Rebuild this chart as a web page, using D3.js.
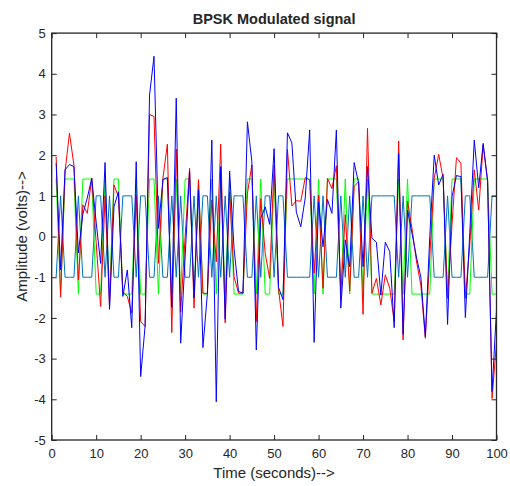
<!DOCTYPE html>
<html>
<head>
<meta charset="UTF-8">
<script src="https://d3js.org/d3.v7.min.js"></script>
<style>
  body { margin: 0; background: #fff; }
  text { font-family: "Liberation Sans", Arial, sans-serif; fill: #262626; }
</style>
</head>
<body>
<svg id="chart"></svg>
<script>
// tick labels
var xTicks = [0, 10, 20, 30, 40, 50, 60, 70, 80, 90, 100];
var yTicks = [-5, -4, -3, -2, -1, 0, 1, 2, 3, 4, 5];

// samples 1..100
// light blue: the bit stream (+1 / -1)
var bits = [
  -1, 1,-1,-1,-1, 1,-1,-1,-1, 1,   1,-1, 1,-1,-1, 1, 1, 1,-1, 1,
   1,-1,-1, 1,-1,-1, 1,-1, 1,-1,  -1, 1,-1, 1, 1,-1, 1,-1, 1,-1,
   1, 1, 1,-1,-1, 1,-1, 1, 1,-1,   1, 1,-1,-1,-1,-1,-1,-1, 1,-1,
   1,-1,-1,-1, 1,-1, 1,-1,-1, 1,  -1, 1, 1, 1, 1, 1, 1,-1, 1,-1,
   1, 1, 1, 1, 1,-1,-1,-1, 1,-1,  -1,-1, 1, 1,-1,-1,-1,-1, 1, 1
];
// green: modulated signal (+/- 1.414)
var modulated = [
   1.414,-1.414, 1.414, 1.414, 1.414,-1.414, 1.414, 1.414, 1.414,-1.414,
  -1.414, 1.414,-1.414, 1.414, 1.414,-1.414,-1.414,-1.414, 1.414,-1.414,
  -1.414, 1.414, 1.414,-1.414, 1.414, 1.414,-1.414, 1.414,-1.414, 1.414,
   1.414,-1.414, 1.414,-1.414,-1.414, 1.414,-1.414, 1.414,-1.414, 1.414,
  -1.414,-1.414,-1.414, 1.414, 1.414,-1.414, 1.414,-1.414,-1.414, 1.414,
  -1.414,-1.414, 1.414, 1.414, 1.414, 1.414, 1.414, 1.414,-1.414, 1.414,
  -1.414, 1.414, 1.414, 1.414,-1.414, 1.414,-1.414, 1.414, 1.414,-1.414,
   1.414,-1.414,-1.414,-1.414,-1.414,-1.414,-1.414, 1.414,-1.414, 1.414,
  -1.414,-1.414,-1.414,-1.414,-1.414, 1.414, 1.414, 1.414,-1.414, 1.414,
   1.414, 1.414,-1.414,-1.414, 1.414, 1.414, 1.414, 1.414,-1.414,-1.414
];
// red: signal with noise
var noisyRed = [
   1.96,-1.49, 1.60, 2.54, 1.75,-1.07, 0.78, 0.57, 1.43,-0.15,
  -1.72, 1.00,-1.70, 1.27, 0.98,-1.35,-1.47,-1.88, 1.00,-2.09,
  -2.21, 3.00, 2.95,-0.66, 1.43, 2.27,-2.36, 2.15,-1.86, 0.00,
   1.68,-1.76, 1.39,-1.39,-1.40, 0.90,-0.62, 2.27,-2.12, 1.10,
  -0.99,-1.39,-1.39, 1.06, 1.76,-2.09, 0.93,-0.41,-1.03, 1.76,
  -1.30,-2.21, 2.14, 0.75, 0.88, 0.87, 1.45, 1.39,-0.90, 1.02,
  -1.27, 1.43, 1.18, 1.74,-1.43, 0.54,-1.34, 1.23, 1.35,-1.91,
   2.66,-1.39,-1.03,-1.68,-0.94,-1.27,-2.09, 2.35,-2.54, 0.87,
   0.20,-0.60,-1.20,-2.50,-0.50, 1.43, 2.02, 1.43,-1.52, 0.30,
   1.94, 1.80,-1.52,-0.20, 1.64, 0.65, 2.25, 1.39,-3.98,-2.60
];
// blue: received signal
var noisyBlue = [
   1.80,-0.82, 1.64, 1.77, 1.72,-0.40, 0.55, 0.95, 1.43, 0.35,
  -0.66, 1.82,-1.79, 0.73, 1.10,-1.47,-0.82,-2.24, 1.84,-3.44,
  -2.20, 3.48, 4.43, 0.20, 1.40, 1.45,-1.74, 3.40,-2.62,-0.50,
   1.60,-1.51, 1.15,-2.73,-1.40, 2.37,-4.06, 1.72,-2.03, 1.61,
  -0.30,-1.35,-1.39, 2.82, 1.84,-2.79, 0.45, 0.73, 0.30, 2.16,
  -1.25,-1.55, 2.55, 2.30, 0.60, 0.24, 0.95, 2.62,-2.60, 0.85,
  -0.25, 0.91, 0.57, 2.62,-1.76,-0.08,-0.74, 1.82, 1.31,-0.74,
   1.72,-0.04,-0.14,-1.44,-0.14,-0.37,-2.24, 2.04,-2.40, 0.65,
   0.08,-0.50,-1.00,-2.46, 0.00, 2.00, 1.27, 1.53,-2.16, 0.98,
   1.50, 1.47,-1.99, 0.10, 2.37, 1.20, 2.29, 1.35,-3.81,-1.80
];

var width = 510, height = 486;
var pLeft = 51.7, pRight = 496.5, pTop = 33.1, pBottom = 440;

var svg = d3.select("#chart")
    .attr("width", width)
    .attr("height", height);

var x = d3.scaleLinear().domain([0, 100]).range([pLeft, pRight]);
var y = d3.scaleLinear().domain([-5, 5]).range([pBottom, pTop]);

var line = d3.line()
    .x(function(d, i) { return x(i + 1); })
    .y(function(d) { return y(d); });

var series = [
    { data: bits,      color: "#0072BD" },
    { data: modulated, color: "#00FF00" },
    { data: noisyRed,  color: "#FF0000" },
    { data: noisyBlue, color: "#0000FF" }
];

svg.append("defs").append("clipPath").attr("id", "clip")
    .append("rect")
    .attr("x", pLeft).attr("y", pTop)
    .attr("width", pRight - pLeft).attr("height", pBottom - pTop);

var plot = svg.append("g").attr("clip-path", "url(#clip)");
series.forEach(function(s) {
    plot.append("path")
        .attr("d", line(s.data))
        .attr("fill", "none")
        .attr("stroke", s.color)
        .attr("stroke-width", 1);
});

// plain hyphen for negatives, like the original
var plain = function(d) { return String(d); };

// axes, ticks pointing inward on all four sides
function styleAxis(g) {
    g.select(".domain").remove();
    g.selectAll(".tick line").attr("stroke", "#262626").attr("stroke-width", 1);
    g.selectAll(".tick text").style("font-size", "13px").attr("fill", "#262626");
}

svg.append("g")
    .attr("transform", "translate(0," + pBottom + ")")
    .call(d3.axisBottom(x).tickValues(xTicks).tickFormat(plain).tickSizeInner(-5).tickSizeOuter(0).tickPadding(9))
    .call(styleAxis);

svg.append("g")
    .attr("transform", "translate(0," + pTop + ")")
    .call(d3.axisTop(x).tickValues(xTicks).tickSizeInner(-5).tickSizeOuter(0).tickFormat(""))
    .call(styleAxis);

svg.append("g")
    .attr("transform", "translate(" + pLeft + ",0)")
    .call(d3.axisLeft(y).tickValues(yTicks).tickFormat(plain).tickSizeInner(-5).tickSizeOuter(0).tickPadding(6))
    .call(styleAxis);

svg.append("g")
    .attr("transform", "translate(" + pRight + ",0)")
    .call(d3.axisRight(y).tickValues(yTicks).tickSizeInner(-5).tickSizeOuter(0).tickFormat(""))
    .call(styleAxis);

svg.append("rect")
    .attr("x", pLeft).attr("y", pTop)
    .attr("width", pRight - pLeft).attr("height", pBottom - pTop)
    .attr("fill", "none")
    .attr("stroke", "#262626")
    .attr("stroke-width", 1.3);

// labels
svg.append("text")
    .attr("x", (pLeft + pRight) / 2).attr("y", 24)
    .attr("text-anchor", "middle")
    .style("font-size", "14.5px").style("font-weight", "bold")
    .attr("fill", "#000")
    .text("BPSK Modulated signal");

svg.append("text")
    .attr("x", (pLeft + pRight) / 2).attr("y", 478)
    .attr("text-anchor", "middle")
    .style("font-size", "15px")
    .text("Time (seconds)-->");

svg.append("text")
    .attr("transform", "translate(27," + ((pTop + pBottom) / 2) + ") rotate(-90)")
    .attr("text-anchor", "middle")
    .style("font-size", "15px")
    .text("Amplitude (volts)-->");
</script>
</body>
</html>
